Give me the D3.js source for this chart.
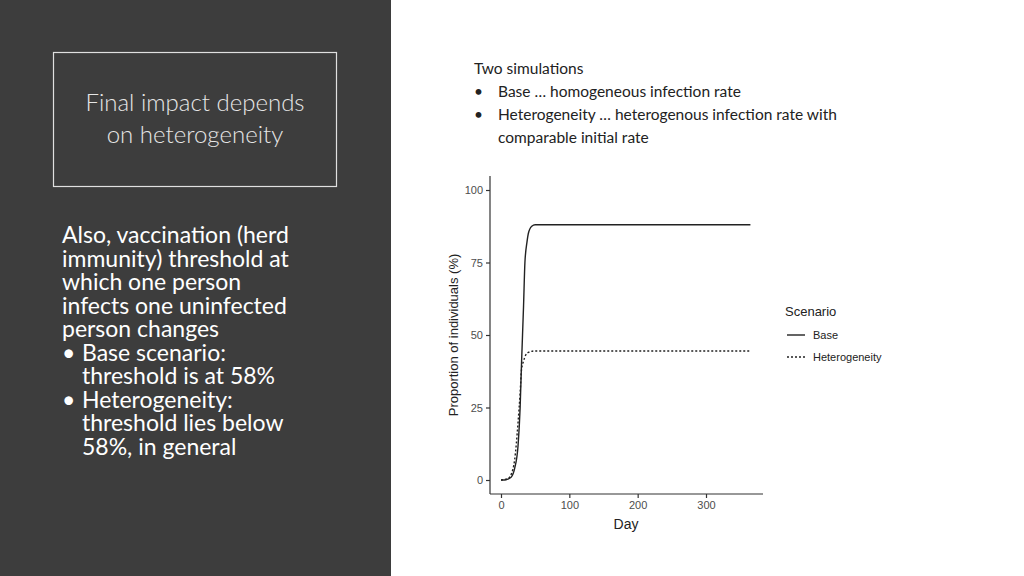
<!DOCTYPE html><html><head><meta charset="utf-8"><script src="https://cdn.jsdelivr.net/npm/d3@7"></script>
<style>body{margin:0;background:#fff}svg{display:block}</style></head><body><svg id="s" width="1024" height="576"></svg>
<script>
const baseDays=[0,5,10,15,20,25,28,30,33,35,38,40,45,50,365];
const baseVals=[0,0,0.3,1,4,12,25,40,60,75,82,85,87.5,88,88];
const hetDays=[0,10,15,20,25,28,30,33,36,40,50,365];
const hetVals=[0,0.5,2,7,20,30,38,41,43,44,44.5,44.5];
const xTicks=[0,100,200,300], yTicks=[0,25,50,75,100];
const series=["Base","Heterogeneity"];
const svg=d3.select("#s");
svg.append("rect").attr("width",391).attr("height",576).attr("fill","#3d3d3d");
svg.append("rect").attr("x",53.5).attr("y",52.5).attr("width",283).attr("height",134).attr("fill","none").attr("stroke","#e0e0e0").attr("stroke-width",1.2);
const tf="Lato, 'Open Sans', sans-serif";
[["Final impact depends",103],["on heterogeneity",135]].forEach(([t,y])=>svg.append("text").attr("x",195).attr("y",y+8).attr("text-anchor","middle").attr("fill","#e6e6e6").attr("font-family",tf).attr("font-weight",300).attr("font-size",24).text(t));
const body=[["Also, vaccination (herd",62],["immunity) threshold at",62],["which one person",62],["infects one uninfected",62],["person changes",62],["•",62,"Base scenario:",82],["threshold is at 58%",82],["•",62,"Heterogeneity:",82],["threshold lies below",82],["58%, in general",82]];
body.forEach((b,i)=>{const y=243+i*23.5;
 const g=(t,x)=>svg.append("text").attr("x",x).attr("y",y).attr("fill","#fff").attr("font-family",tf).attr("font-size",23).text(t);
 if(b.length===4){g(b[0],b[1]);g(b[2],b[3]);}else g(b[0],b[1]);});
const topText=[["Two simulations",474],["•",474,"Base … homogeneous infection rate",498],["•",474,"Heterogeneity … heterogenous infection rate with",498],["comparable initial rate",498]];
topText.forEach((b,i)=>{const y=74+i*23;const g=(t,x)=>svg.append("text").attr("x",x).attr("y",y).attr("fill","#222").attr("font-family",tf).attr("font-size",15.5).text(t);
 if(b.length===4){g(b[0],b[1]);g(b[2],b[3]);}else g(b[0],b[1]);});
const x=d3.scaleLinear().domain([0,300]).range([501,706]);
const y=d3.scaleLinear().domain([0,100]).range([480,190]);
const ax=svg.append("g").attr("transform","translate(0,494)").call(d3.axisBottom(x).tickValues(xTicks).tickSize(4).tickSizeOuter(0));
ax.select(".domain").attr("d","M490,0H763");
const ay=svg.append("g").attr("transform","translate(490,0)").call(d3.axisLeft(y).tickValues(yTicks).tickSize(4).tickSizeOuter(0));
ay.select(".domain").attr("d","M0,176V494");
svg.selectAll(".tick text").attr("fill","#4d4d4d").attr("font-family","Liberation Sans, Arial").attr("font-size",11);
svg.selectAll(".domain,.tick line").attr("stroke","#333").attr("stroke-width",1.2);
svg.append("text").attr("x",626).attr("y",529).attr("text-anchor","middle").attr("font-family","Liberation Sans, Arial").attr("font-size",14).attr("fill","#222").text("Day");
svg.append("text").attr("transform","translate(458,335) rotate(-90)").attr("text-anchor","middle").attr("font-family","Liberation Sans, Arial").attr("font-size",13).attr("fill","#222").text("Proportion of individuals (%)");
const line=d3.line().x(d=>x(d[0])).y(d=>y(d[1])).curve(d3.curveMonotoneX);
svg.append("path").attr("d",line(baseDays.map((d,i)=>[d,baseVals[i]]))).attr("fill","none").attr("stroke","#222").attr("stroke-width",1.4);
svg.append("path").attr("d",line(hetDays.map((d,i)=>[d,hetVals[i]]))).attr("fill","none").attr("stroke","#222").attr("stroke-width",1.4).attr("stroke-dasharray","2,2");
svg.append("text").attr("x",785).attr("y",316).attr("font-family","Liberation Sans, Arial").attr("font-size",13).attr("fill","#222").text("Scenario");
series.forEach((s,i)=>{const yy=335+i*22;
 svg.append("line").attr("x1",787).attr("x2",805).attr("y1",yy).attr("y2",yy).attr("stroke","#222").attr("stroke-width",1.4).attr("stroke-dasharray",i?"2,2":null);
 svg.append("text").attr("x",813).attr("y",yy+4).attr("font-family","Liberation Sans, Arial").attr("font-size",11).attr("fill","#222").text(s);});
</script></body></html>
